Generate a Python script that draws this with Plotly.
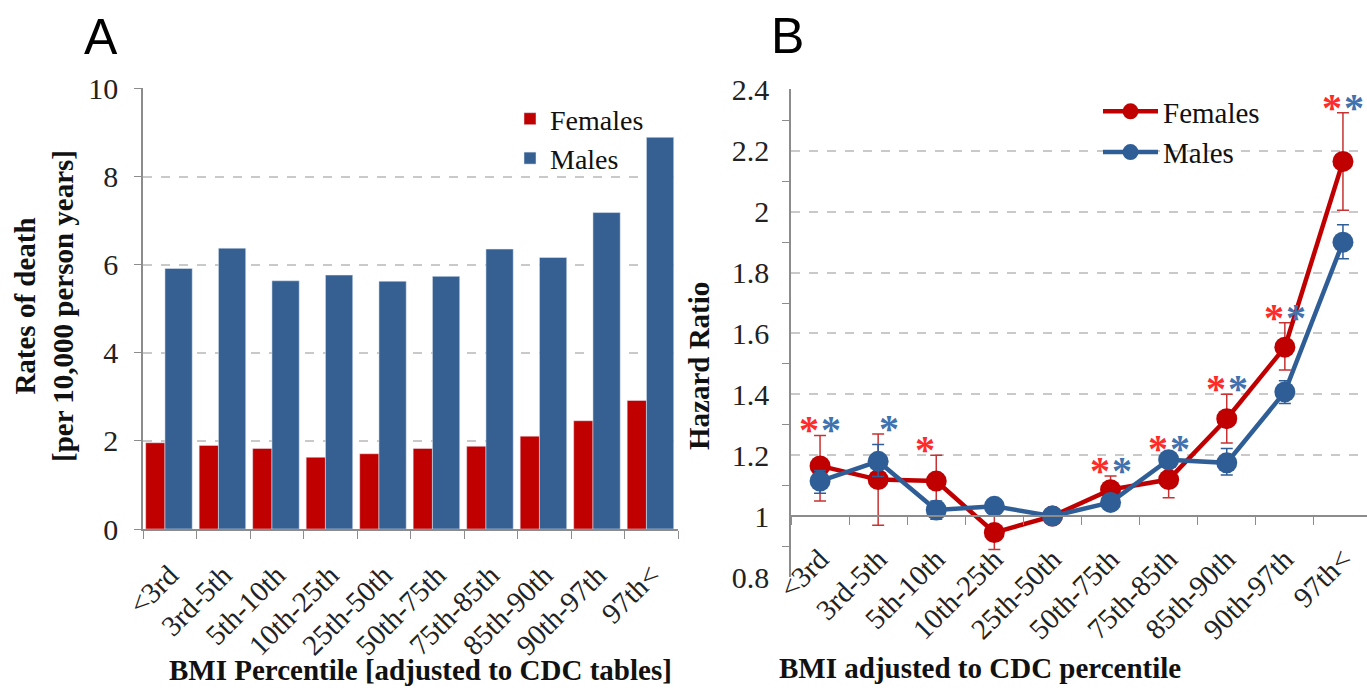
import plotly.graph_objects as go

W, H = 1367, 691

categories = ["<3rd", "3rd-5th", "5th-10th", "10th-25th", "25th-50th",
              "50th-75th", "75th-85th", "85th-90th", "90th-97th", "97th<"]

# Panel A: rates of death per 10,000 person years
rate_females = [1.96, 1.90, 1.83, 1.63, 1.71, 1.83, 1.88, 2.11, 2.46, 2.92]
rate_males = [5.92, 6.38, 5.64, 5.77, 5.63, 5.74, 6.36, 6.17, 7.19, 8.90]

# Panel B: hazard ratios with 95% CI
hr_females = [1.165, 1.12, 1.115, 0.946, 1.0, 1.087, 1.12, 1.32, 1.555, 2.165]
hr_females_lo = [1.05, 0.97, 1.04, 0.89, 1.0, 1.04, 1.06, 1.24, 1.48, 2.005]
hr_females_hi = [1.265, 1.27, 1.20, 1.0, 1.0, 1.132, 1.185, 1.40, 1.635, 2.325]
hr_males = [1.115, 1.18, 1.02, 1.032, 1.0, 1.045, 1.185, 1.175, 1.408, 1.90]
hr_males_lo = [1.075, 1.13, 0.99, 1.01, 1.0, 1.02, 1.165, 1.135, 1.37, 1.845]
hr_males_hi = [1.15, 1.235, 1.05, 1.05, 1.0, 1.07, 1.205, 1.222, 1.445, 1.957]
sig_females = [1, 0, 1, 0, 0, 1, 1, 1, 1, 1]
sig_males = [1, 1, 0, 0, 0, 1, 1, 1, 1, 1]

RED = "#C00000"
BLUE = "#376092"
LBLUE = "#2F5E97"
STAR_RED = "#FF2B2B"
STAR_BLUE = "#3F72AE"
SERIF = "Liberation Serif"
SANS = "Liberation Sans"
GRID = "#C9C9C9"
AXIS = "#8C8C8C"


def px(x):
    return x / W


def py(y):
    return 1 - y / H


fig = go.Figure()

# ---- Panel A
fig.add_trace(go.Bar(x=categories, y=rate_females, name="Females", marker_color=RED,
                     width=0.36, offset=-0.45, xaxis="x", yaxis="y", legend="legend"))
fig.add_trace(go.Bar(x=categories, y=rate_males, name="Males", marker_color=BLUE,
                     width=0.51, offset=-0.09, xaxis="x", yaxis="y", legend="legend"))

# ---- Panel B
fig.add_trace(go.Scatter(
    x=categories, y=hr_females, name="Females", mode="lines+markers",
    line=dict(color=RED, width=4.5), marker=dict(color=RED, size=21),
    error_y=dict(type="data", symmetric=False,
                 array=[h - v for h, v in zip(hr_females_hi, hr_females)],
                 arrayminus=[v - l for v, l in zip(hr_females, hr_females_lo)],
                 color="#C83232", thickness=1.5, width=6),
    xaxis="x2", yaxis="y2", legend="legend2"))
fig.add_trace(go.Scatter(
    x=categories, y=hr_males, name="Males", mode="lines+markers",
    line=dict(color=LBLUE, width=4.5), marker=dict(color=LBLUE, size=21),
    error_y=dict(type="data", symmetric=False,
                 array=[h - v for h, v in zip(hr_males_hi, hr_males)],
                 arrayminus=[v - l for v, l in zip(hr_males, hr_males_lo)],
                 color=LBLUE, thickness=1.5, width=6),
    xaxis="x2", yaxis="y2", legend="legend2"))

# domains
xa_dom = [px(143), px(678)]
ya_dom = [py(529), py(88)]
xb_dom = [px(791), 1.0]
yb_rng = [0.8, 2.4]
yb_dom = [py(577), py(89)]
xb_rng = [-0.5, -0.5 + 10 * (W - 791) / 581]
y1_pos = yb_dom[0] + (1.0 - yb_rng[0]) / (yb_rng[1] - yb_rng[0]) * (yb_dom[1] - yb_dom[0])

tickfont = dict(family=SERIF, size=30, color="#222")
xtickfont = dict(family=SERIF, size=29, color="#222")

fig.update_layout(
    width=W, height=H, margin=dict(l=0, r=0, t=0, b=0),
    paper_bgcolor="white", plot_bgcolor="white",
    barmode="overlay", showlegend=True,
    xaxis=dict(domain=xa_dom, anchor="y", type="category", range=[-0.5, 9.5],
               showline=True, linecolor=AXIS, linewidth=1.5,
               ticks="outside", tickson="boundaries", ticklen=8, tickcolor=AXIS,
               tickangle=-45, tickfont=xtickfont, ticklabelstandoff=16,
               showgrid=False, automargin=False),
    yaxis=dict(domain=ya_dom, anchor="x", range=[0, 10.02], dtick=2,
               showline=True, linecolor=AXIS, linewidth=1.5,
               ticks="outside", ticklen=7, tickcolor=AXIS,
               tickfont=tickfont, showgrid=True, gridcolor=GRID, griddash="dash",
               gridwidth=1.5, zeroline=False, automargin=False, ticklabelstandoff=10),
    xaxis2=dict(domain=xb_dom, anchor="free", position=y1_pos, type="category",
                range=xb_rng, showline=True, linecolor=AXIS, linewidth=1.5,
                ticks="outside", tickson="boundaries", ticklen=8, tickcolor=AXIS,
                tickangle=-45, tickfont=xtickfont, ticklabelstandoff=14,
                showgrid=False, automargin=False),
    yaxis2=dict(domain=yb_dom, anchor="x2", range=[0.8, 2.403],
                tickvals=[0.8, 1, 1.2, 1.4, 1.6, 1.8, 2, 2.2, 2.4],
                ticktext=["0.8", "1", "1.2", "1.4", "1.6", "1.8", "2", "2.2", "2.4"],
                showline=True, linecolor=AXIS, linewidth=1.5, ticks="",
                minor=dict(tickvals=[0.9, 1.1, 1.3, 1.5, 1.7, 1.9, 2.1, 2.3],
                           ticks="outside", ticklen=7, tickcolor=AXIS, showgrid=False),
                tickfont=tickfont, showgrid=True, gridcolor=GRID, griddash="dash",
                gridwidth=1.5, zeroline=False, automargin=False, ticklabelstandoff=14),
    legend=dict(x=px(510), y=py(94), xanchor="left", yanchor="top",
                font=dict(family=SERIF, size=28, color="#111"), bgcolor="rgba(0,0,0,0)",
                itemwidth=30, tracegroupgap=0),
    legend2=dict(x=px(1098), y=py(86), xanchor="left", yanchor="top",
                 font=dict(family=SERIF, size=29, color="#111"), bgcolor="rgba(0,0,0,0)",
                 itemwidth=55, tracegroupgap=0),
)

ann = []
# panel letters
ann.append(dict(text="A", x=px(101), y=py(37), xref="paper", yref="paper", showarrow=False,
                xanchor="center", yanchor="middle",
                font=dict(family=SANS, size=50, color="#000")))
ann.append(dict(text="B", x=px(787), y=py(36), xref="paper", yref="paper", showarrow=False,
                xanchor="center", yanchor="middle",
                font=dict(family=SANS, size=50, color="#000")))
# axis titles
ann.append(dict(text="<b>Rates of death<br>[per 10,000 person years]</b>", x=px(44), y=py(306),
                xref="paper", yref="paper", showarrow=False, textangle=-90,
                xanchor="center", yanchor="middle",
                font=dict(family=SERIF, size=29, color="#111")))
ann.append(dict(text="<b>BMI Percentile [adjusted to CDC tables]</b>", x=px(420), y=py(670),
                xref="paper", yref="paper", showarrow=False,
                xanchor="center", yanchor="middle",
                font=dict(family=SERIF, size=29, color="#111")))
ann.append(dict(text="<b>Hazard Ratio</b>", x=px(699), y=py(366),
                xref="paper", yref="paper", showarrow=False, textangle=-90,
                xanchor="center", yanchor="middle",
                font=dict(family=SERIF, size=29, color="#111")))
ann.append(dict(text="<b>BMI adjusted to CDC percentile</b>", x=px(980), y=py(668),
                xref="paper", yref="paper", showarrow=False,
                xanchor="center", yanchor="middle",
                font=dict(family=SERIF, size=29, color="#111")))

# significance stars
for i, c in enumerate(categories):
    ys = max(hr_females_hi[i], hr_males_hi[i]) + 0.045
    if sig_females[i]:
        ann.append(dict(text="<b>*</b>", x=c, y=ys, xref="x2", yref="y2", showarrow=False,
                        xanchor="center", yanchor="middle",
                        xshift=-11, yshift=-8, font=dict(family=SERIF, size=40, color=STAR_RED)))
    if sig_males[i]:
        ann.append(dict(text="<b>*</b>", x=c, y=ys, xref="x2", yref="y2", showarrow=False,
                        xanchor="center", yanchor="middle",
                        xshift=11, yshift=-8, font=dict(family=SERIF, size=40, color=STAR_BLUE)))

fig.update_layout(annotations=ann)

fig.write_html("out.html", config={"displayModeBar": False},
               post_script="document.body.style.margin='0px';")
